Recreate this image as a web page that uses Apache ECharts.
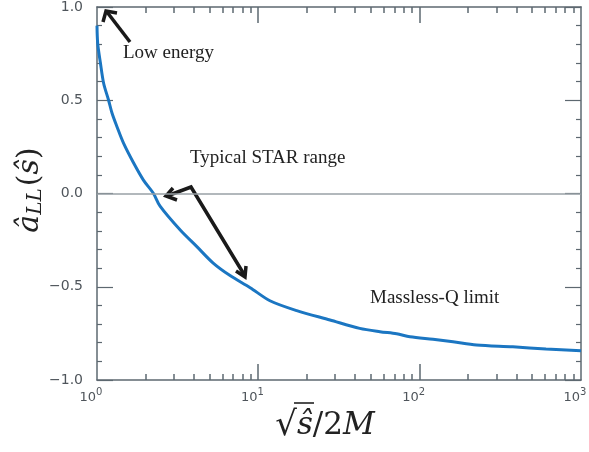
<!DOCTYPE html>
<html>
<head>
<meta charset="utf-8">
<script src="https://cdn.jsdelivr.net/npm/echarts@6/dist/echarts.min.js"></script>
<style>
html, body { margin: 0; padding: 0; background: #fff; }
#chart { width: 589px; height: 452px; }
</style>
</head>
<body>
<div id="chart"></div>
<script>
let chart = echarts.init(document.getElementById('chart'));

// curve
const xs = [1, 1.01, 1.05, 1.1, 1.18, 1.24, 1.33, 1.46, 1.69, 1.94, 2.24, 2.46, 3.28, 4.16, 5.25, 6.68, 8.9, 11.8, 17.3, 27.8, 42.5, 56.7, 72, 87, 121, 161, 225, 378, 607, 1000];
const ys = [0.90, 0.805, 0.70, 0.59, 0.50, 0.43, 0.358, 0.27, 0.162, 0.072, 0.0, -0.068, -0.196, -0.285, -0.373, -0.44, -0.505, -0.575, -0.628, -0.678, -0.723, -0.741, -0.752, -0.768, -0.782, -0.795, -0.812, -0.822, -0.834, -0.843];
const majorXTicks = [10, 100];
const minorXTicks = [2, 3, 4, 5, 6, 7, 8, 9, 20, 30, 40, 50, 60, 70, 80, 90, 200, 300, 400, 500, 600, 700, 800, 900];
const yTickLabels = { '1': '1.0', '0.5': '0.5', '0': '0.0', '-0.5': '\u22120.5', '-1': '\u22121.0' };

const axisColor = '#5d6870';
const labelColor = '#4f555b';
const curveColor = '#1b76c2';
const grid = { left: 97, right: 8, top: 7, bottom: 72 };
const W = 589, H = 452;

function xLabel(v) {
    let e = Math.round(Math.log10(v));
    return '{b|10}{s|' + e + '}';
}

let annotations = [
    { type: 'text', left: 123, top: 44, style: { text: 'Low energy', font: '19px "Liberation Serif"', fill: '#222' } },
    { type: 'text', left: 190, top: 149, style: { text: 'Typical STAR range', font: '19px "Liberation Serif"', fill: '#222' } },
    { type: 'text', left: 370, top: 289, style: { text: 'Massless-Q limit', font: '19px "Liberation Serif"', fill: '#222' } },
    // arrows
    { type: 'polyline', shape: { points: [[130, 42], [107, 12]] }, style: { stroke: '#1a1a1a', lineWidth: 3.5, fill: null } },
    { type: 'polyline', shape: { points: [[103, 22], [106, 11], [117, 13]] }, style: { stroke: '#1a1a1a', lineWidth: 3.5, fill: null } },
    { type: 'polyline', shape: { points: [[167, 196], [191, 187], [245, 276]] }, style: { stroke: '#1a1a1a', lineWidth: 3.5, fill: null } },
    { type: 'polyline', shape: { points: [[173, 188], [166, 196], [177, 200]] }, style: { stroke: '#1a1a1a', lineWidth: 3.5, fill: null } },
    { type: 'polyline', shape: { points: [[236, 271], [245, 277], [246, 266]] }, style: { stroke: '#1a1a1a', lineWidth: 3.5, fill: null } },
    // y axis title
    {
        type: 'text', x: 30, y: 190, rotation: Math.PI / 2,
        style: {
            text: '{a|\u00e2}{s|LL}{p|(}{a|\u015d}{p|)}',
            align: 'center', verticalAlign: 'middle',
            rich: {
                a: { font: 'italic 30px "DejaVu Serif"', fill: '#222' },
                s: { font: 'italic 20px "DejaVu Serif"', fill: '#222', padding: [12, 2, 0, 0] },
                p: { font: '30px "DejaVu Serif"', fill: '#222' }
            }
        }
    },
    // x axis title
    {
        type: 'text', x: 325, y: 426,
        style: {
            text: '{r|\u221a}{a|\u015d}{p|/2}{a|M}',
            align: 'center', verticalAlign: 'middle',
            rich: {
                r: { font: '34px "DejaVu Serif"', fill: '#222' },
                a: { font: 'italic 31px "DejaVu Serif"', fill: '#222' },
                p: { font: '31px "DejaVu Serif"', fill: '#222' }
            }
        }
    },
    { type: 'line', shape: { x1: 294, y1: 403, x2: 314, y2: 403 }, style: { stroke: '#222', lineWidth: 1.6 } }
];

// x ticks (decades long, 2..9 short) on bottom and top frame of the log axis
let x0 = grid.left, x1 = W - grid.right, yTop = grid.top, yBot = H - grid.bottom;
let ticks = [];
[[majorXTicks, 16], [minorXTicks, 6]].forEach(([vals, len]) => {
    vals.forEach(v => {
        let px = Math.round(x0 + (x1 - x0) * Math.log10(v) / 3);
        ticks.push({ type: 'rect', shape: { x: px - 0.75, y: yBot - len, width: 1.5, height: len }, style: { fill: axisColor }, z: 10 });
        ticks.push({ type: 'rect', shape: { x: px - 0.75, y: yTop, width: 1.5, height: len }, style: { fill: axisColor }, z: 10 });
    });
});

let options = {
    backgroundColor: '#fff',
    animation: false,
    grid: { left: grid.left, right: grid.right, top: grid.top, bottom: grid.bottom, outerBoundsMode: 'none' },
    xAxis: [{
        type: 'log', logBase: 10, min: 1, max: 1000,
        axisLine: { show: true, onZero: false, lineStyle: { color: axisColor, width: 1.5 } },
        axisTick: { show: false },
        splitLine: { show: false },
        axisLabel: {
            formatter: xLabel, margin: 5,
            rich: {
                b: { fontFamily: 'DejaVu Sans', fontSize: 13, color: labelColor, padding: [6, 0, 0, 0] },
                s: { fontFamily: 'DejaVu Sans', fontSize: 10, color: labelColor, padding: [0, 12, 4, 0] }
            }
        }
    }, {
        type: 'log', logBase: 10, min: 1, max: 1000, position: 'top',
        axisLine: { show: true, onZero: false, lineStyle: { color: axisColor, width: 1.5 } },
        axisTick: { show: false },
        splitLine: { show: false },
        axisLabel: { show: false }
    }],
    yAxis: [{
        type: 'value', min: -1, max: 1, interval: 0.5,
        axisLine: { show: true, onZero: false, lineStyle: { color: axisColor, width: 1.5 } },
        axisTick: { show: true, inside: true, length: 16, lineStyle: { color: axisColor, width: 1.2 } },
        minorTick: { show: true, splitNumber: 5, length: 5, lineStyle: { color: axisColor, width: 1.2 } },
        splitLine: { show: false },
        axisLabel: {
            formatter: v => yTickLabels[String(v)] || '',
            fontFamily: 'DejaVu Sans', fontSize: 14, color: labelColor, margin: 14
        }
    }, {
        type: 'value', min: -1, max: 1, interval: 0.5, position: 'right',
        axisLine: { show: true, onZero: false, lineStyle: { color: axisColor, width: 1.5 } },
        axisTick: { show: true, inside: true, length: 16, lineStyle: { color: axisColor, width: 1.2 } },
        minorTick: { show: true, splitNumber: 5, length: 5, lineStyle: { color: axisColor, width: 1.2 } },
        splitLine: { show: false },
        axisLabel: { show: false }
    }],
    series: [{
        type: 'line',
        data: xs.map((x, i) => [x, ys[i]]),
        showSymbol: false,
        smooth: 0.3,
        lineStyle: { color: curveColor, width: 3 },
        markLine: {
            silent: true, symbol: 'none', label: { show: false },
            lineStyle: { color: '#98a0a6', width: 1.5, type: 'solid' },
            data: [{ yAxis: 0 }]
        },
        z: 3
    }],
    graphic: annotations.concat(ticks)
};
chart.setOption(options);
</script>
</body>
</html>
